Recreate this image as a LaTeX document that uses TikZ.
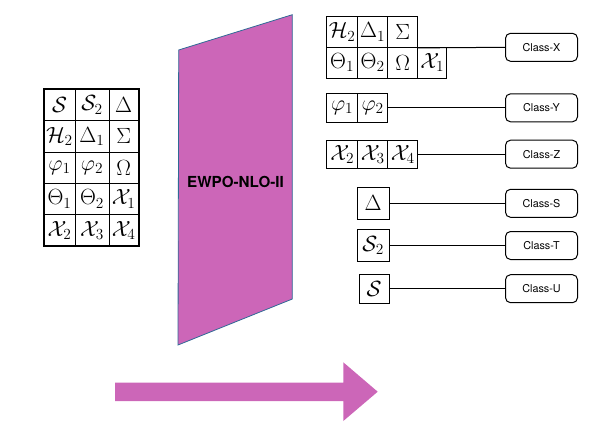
\RequirePackage{fix-cm}
\documentclass[tikz,border=0pt]{standalone}
\usepackage[no-math]{fontspec}
\newfontfamily\heros{TeX Gyre Heros}
\definecolor{mag}{HTML}{CC66B8}
\definecolor{edgeblue}{HTML}{2F6A96}
\newcommand\mbig[1]{\scalebox{1.1}{$#1$}}
\tikzset{
  cell/.style={draw, line width=1pt, inner sep=0pt, anchor=center,
    font=\fontsize{20}{24}\selectfont},
  classbox/.style={draw, line width=1pt, rounded corners=5pt, inner sep=0pt,
    minimum width=72pt, minimum height=28pt, font=\heros\fontsize{10.8}{13}\selectfont},
  link/.style={line width=1pt},
  panel/.style={fill=mag, draw=edgeblue, line width=0.8pt},
  bigarrow/.style={fill=mag, draw=none},
  w31/.style={minimum width=31pt}, w30/.style={minimum width=30pt},
  w29/.style={minimum width=29pt}, w34/.style={minimum width=34pt},
}
\begin{document}
\begin{tikzpicture}[x=1pt,y=-1pt]
\useasboundingbox (0,0) rectangle (599,436);
% left table
\begin{scope}[every node/.append style={cell, minimum height=31.3pt}]
\node[w31] (L11) at (59.5,105.1) {\mbig{\mathcal{S}}};
\node[w34] (L12) at (92,105.1) {\mbig{\mathcal{S}_2}};
\node[minimum width=29.3pt] (L13) at (123.65,105.1) {\mbig{\Delta}};
\node[w31] (L21) at (59.5,136.4) {\mbig{\mathcal{H}_2}};
\node[w34] (L22) at (92,136.4) {\mbig{\Delta_1}};
\node[minimum width=29.3pt] (L23) at (123.65,136.4) {\mbig{\Sigma}};
\node[w31] (L31) at (59.5,167.7) {\mbig{\varphi_1}};
\node[w34] (L32) at (92,167.7) {\mbig{\varphi_2}};
\node[minimum width=29.3pt] (L33) at (123.65,167.7) {\mbig{\Omega}};
\node[w31] (L41) at (59.5,199) {\mbig{\Theta_1}};
\node[w34] (L42) at (92,199) {\mbig{\Theta_2}};
\node[minimum width=29.3pt] (L43) at (123.65,199) {\mbig{\mathcal{X}_1}};
\node[w31] (L51) at (59.5,230.3) {\mbig{\mathcal{X}_2}};
\node[w34] (L52) at (92,230.3) {\mbig{\mathcal{X}_3}};
\node[minimum width=29.3pt] (L53) at (123.65,230.3) {\mbig{\mathcal{X}_4}};
\end{scope}
\draw[line width=1.8pt] (L11.north west) rectangle (L53.south east);
% panel
\path[panel] (178.7,50) coordinate (p1) -- (292.3,14.7) coordinate (p2)
  -- (292.3,299) coordinate (p3) -- (178,345) coordinate (p4) -- cycle;
\node[font=\heros\bfseries\fontsize{15.2}{18}\selectfont] (panelT) at (235.5,182) {EWPO-NLO-II};
% arrow
\path[bigarrow] (115,382.7) coordinate (a0) -- (343.3,382.7) -- (343.3,362.3)
  -- (377.7,391.7) coordinate (atip) -- (343.3,421) -- (343.3,401) -- (115,401) -- cycle;
% right: X
\begin{scope}[every node/.append style={cell}]
\node[w31, minimum height=30.8pt] (X11) at (342.2,32) {\mbig{\mathcal{H}_2}};
\node[w30, minimum height=30.8pt] (X12) at (372.7,32) {\mbig{\Delta_1}};
\node[w30, minimum height=30.8pt] (X13) at (402.7,32) {\mbig{\Sigma}};
\node[w31, minimum height=30.8pt] (X21) at (342.2,62.8) {\mbig{\Theta_1}};
\node[w30, minimum height=30.8pt] (X22) at (372.7,62.8) {\mbig{\Theta_2}};
\node[w30, minimum height=30.8pt] (X23) at (402.7,62.8) {\mbig{\Omega}};
\node[w29, minimum height=30.8pt] (X24) at (432.2,62.8) {\mbig{\mathcal{X}_1}};
% Y
\node[w31, minimum height=28.4pt] (Y1) at (342.2,107.8) {\mbig{\varphi_1}};
\node[w30, minimum height=28.4pt] (Y2) at (372.7,107.8) {\mbig{\varphi_2}};
% Z
\node[w31, minimum height=28.3pt] (Z1) at (342.2,154.2) {\mbig{\mathcal{X}_2}};
\node[w30, minimum height=28.3pt] (Z2) at (372.7,154.2) {\mbig{\mathcal{X}_3}};
\node[w30, minimum height=28.3pt] (Z3) at (402.7,154.2) {\mbig{\mathcal{X}_4}};
% singles
\node[minimum width=31.7pt, minimum height=32pt] (S1) at (373.2,203.3) {\mbig{\Delta}};
\node[minimum width=31.7pt, minimum height=32.4pt] (S2) at (373.2,245.5) {\mbig{\mathcal{S}_2}};
\node[minimum width=30pt, minimum height=29.3pt] (S3) at (374,288.7) {\mbig{\mathcal{S}}};
\end{scope}
% classes
\node[classbox] (cX) at (541.5,47.3) {Class-X};
\node[classbox] (cY) at (541.5,107.8) {Class-Y};
\node[classbox] (cZ) at (541.5,154.2) {Class-Z};
\node[classbox] (cS) at (541.5,203.3) {Class-S};
\node[classbox] (cT) at (541.5,245.5) {Class-T};
\node[classbox] (cU) at (541.5,288.7) {Class-U};
% links
\draw[link] (X13.south east) -- (cX.west);
\draw[link] (Y2.east) -- (cY.west);
\draw[link] (Z3.east) -- (cZ.west);
\draw[link] (S1.east) -- (cS.west);
\draw[link] (S2.east) -- (cT.west);
\draw[link] (S3.east) -- (cU.west);
\end{tikzpicture}
\end{document}
